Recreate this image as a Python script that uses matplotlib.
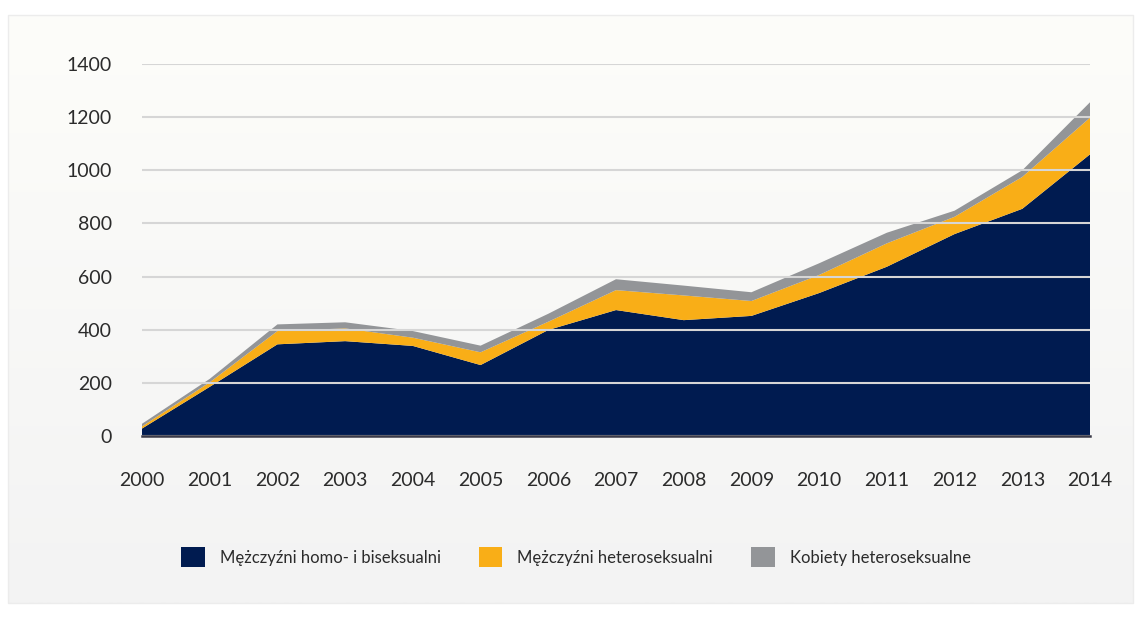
import numpy as np
import matplotlib.pyplot as plt
from matplotlib.patches import Rectangle

years = np.arange(2000, 2015)
msm = [28, 185, 345, 357, 339, 267, 399, 474, 436, 452, 538, 637, 760, 855, 1060]
men_hetero = [8, 17, 50, 48, 31, 48, 31, 75, 93, 56, 68, 88, 65, 120, 138]
women_hetero = [10, 13, 25, 23, 25, 25, 30, 41, 37, 33, 44, 40, 23, 25, 58]

labels = ['Mężczyźni homo- i biseksualni', 'Mężczyźni heteroseksualni', 'Kobiety heteroseksualne']
colors = ['#001b50', '#f9ae17', '#939598']

plt.rcParams['font.family'] = ['Lato', 'DejaVu Sans']

fig = plt.figure(figsize=(11.37, 6.17), dpi=100)
fig.patch.set_facecolor('white')

# background panel with vertical gradient
bg = fig.add_axes([0, 0, 1, 1], zorder=-2)
bg.set_axis_off()
bg.set_xlim(0, 1137)
bg.set_ylim(617, 0)
grad = np.linspace(0, 1, 256).reshape(-1, 1)
top = np.array([253, 253, 250]) / 255
bot = np.array([243, 243, 243]) / 255
img = top + (bot - top) * grad[:, :, None]
bg.imshow(img, extent=[8, 1133, 603, 15], aspect='auto')
bg.add_patch(Rectangle((8, 15), 1125, 588, fill=False, ec='#ececec', lw=1))

ax = fig.add_axes([142 / 1137, 1 - 436 / 617, 948 / 1137, 372 / 617])
ax.patch.set_alpha(0)
ax.stackplot(years, msm, men_hetero, women_hetero, colors=colors, labels=labels, zorder=1)

ax.set_xlim(2000, 2014)
ax.set_ylim(0, 1400)
ax.set_yticks(range(0, 1401, 200))
ax.set_xticks(years)
ax.grid(axis='y', color='#d6d6d6', lw=1.5, zorder=2)
ax.set_axisbelow(False)
for s in ['top', 'right', 'left']:
    ax.spines[s].set_visible(False)
ax.spines['bottom'].set_color('#3a3a48')
ax.spines['bottom'].set_linewidth(1.8)
ax.spines['bottom'].set_zorder(3)
ax.tick_params(length=0, labelsize=14, labelcolor='#2b2b2b')
ax.tick_params(axis='y', pad=21.5)
ax.tick_params(axis='x', pad=26)

handles, labs = ax.get_legend_handles_labels()
fig.legend(handles, labs, loc='center', bbox_to_anchor=(576 / 1137, 1 - 557 / 617),
           ncol=3, frameon=False, fontsize=12, handlelength=1.4, handleheight=1.4,
           handletextpad=0.9, columnspacing=2.3, labelcolor='#2b2b2b')

fig.savefig('out.png', dpi=100)
